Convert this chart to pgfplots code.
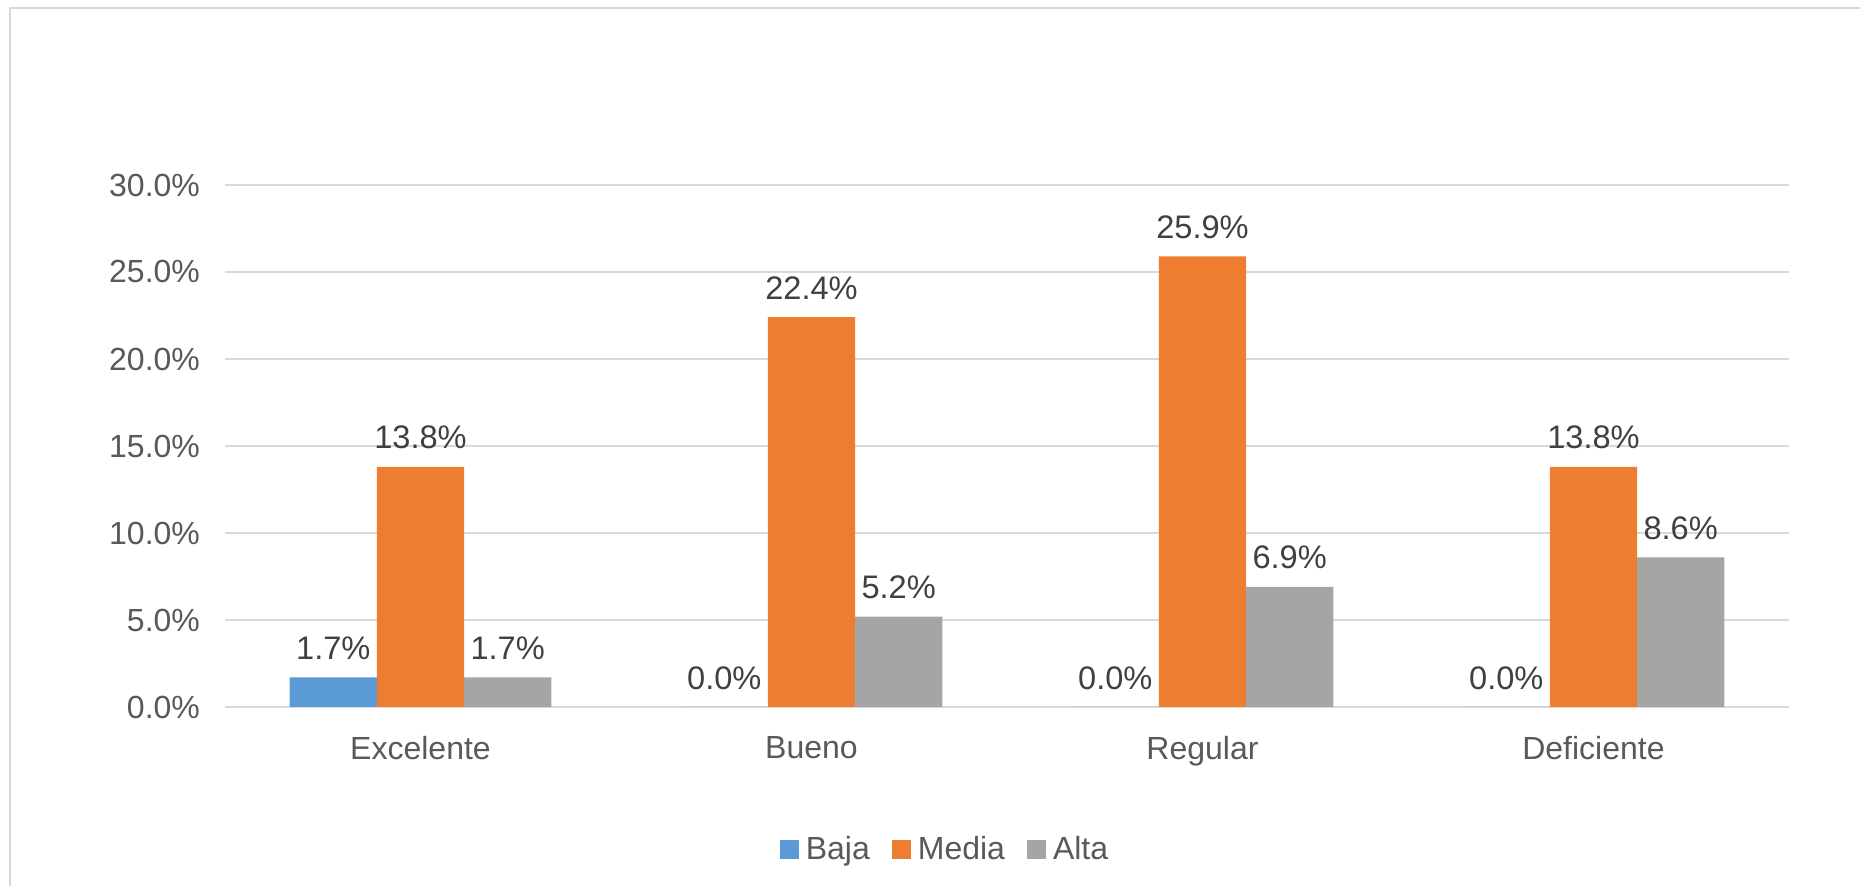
\documentclass[border=0pt]{standalone}
\usepackage{fontspec}
\setmainfont{Liberation Sans}
\usepackage{pgfplots}
\pgfplotsset{compat=1.18}
\definecolor{cBaja}{HTML}{5B9BD5}
\definecolor{cMedia}{HTML}{ED7D31}
\definecolor{cAlta}{HTML}{A5A5A5}
\definecolor{cGrid}{HTML}{D9D9D9}
\definecolor{cTick}{HTML}{595959}
\definecolor{cLab}{HTML}{404040}
\begin{document}
\begin{tikzpicture}
\path[use as bounding box] (0,0) rectangle (930pt,443pt);
\draw[cGrid, line width=1pt] (5pt,0) -- (5pt,439pt) -- (930pt,439pt);
\begin{axis}[
  at={(112.5pt,89.5pt)}, anchor=south west,
  scale only axis, width=782pt, height=261pt,
  /pgf/number format/assume math mode=true,
  font=\fontsize{16}{19}\selectfont,
  ybar=0pt,
  xmin=-0.5, xmax=3.5, ymin=0, ymax=30,
  axis line style={draw=none},
  major tick length=0pt,
  ytick={0,5,...,30},
  ymajorgrids, grid style={cGrid, line width=1pt},
  yticklabel={\pgfmathprintnumber[fixed,fixed zerofill,precision=1]{\tick}\%},
  yticklabel style={text=cTick, xshift=-9pt},
  xtick={0,1,2,3},
  xticklabels={Excelente,Bueno,Regular,Deficiente},
  xticklabel style={text=cTick, yshift=-11pt},
  bar width=0.223,
  nodes near coords={\pgfmathprintnumber[fixed,fixed zerofill,precision=1]{\pgfplotspointmeta}\%},
  nodes near coords style={text=cLab, font=\fontsize{16.3}{19}\selectfont, yshift=5.3pt},
  legend columns=3,
  legend style={at={(0.461,-0.273)}, anchor=center, draw=none, fill=none,
    text=cTick, font=\fontsize{16}{19}\selectfont,
    /tikz/every even column/.append style={column sep=9pt}},
  legend image code/.code={\fill[#1] (0pt,-4.75pt) rectangle (9.5pt,4.75pt);\path (0pt,0pt) -- (11pt,0pt);},
]
\addplot[fill=cBaja, draw=none] coordinates {(0,1.7) (1,0) (2,0) (3,0)};
\addlegendentry{Baja}
\addplot[fill=cMedia, draw=none] coordinates {(0,13.8) (1,22.4) (2,25.9) (3,13.8)};
\addlegendentry{Media}
\addplot[fill=cAlta, draw=none] coordinates {(0,1.7) (1,5.2) (2,6.9) (3,8.6)};
\addlegendentry{Alta}
\end{axis}
\end{tikzpicture}
\end{document}
